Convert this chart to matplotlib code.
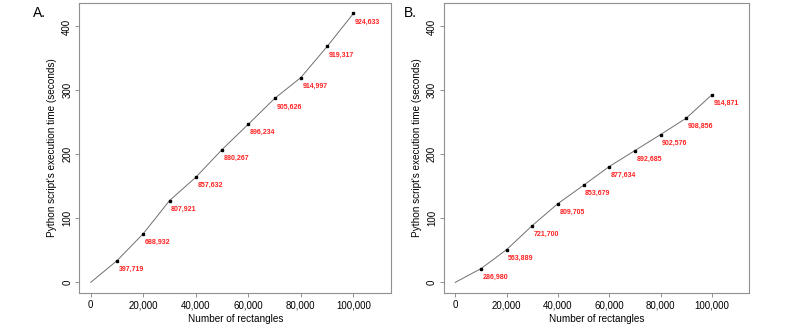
import matplotlib
matplotlib.use("Agg")
import matplotlib.pyplot as plt
from matplotlib.ticker import FuncFormatter

plt.rcParams['font.family'] = ['Liberation Sans', 'DejaVu Sans']

rectangles = [0, 10000, 20000, 30000, 40000, 50000, 60000, 70000, 80000, 90000, 100000]
time_a = [0, 33.9, 76.1, 127.8, 164.3, 207.6, 247.2, 287.4, 320.2, 368.7, 420.3]
time_b = [0, 21.4, 51.1, 88.7, 123.1, 151.8, 181.0, 206.0, 231.0, 256.6, 293.1]
labels_a = ["397,719", "688,932", "807,921", "857,632", "880,267", "896,234",
            "905,626", "914,997", "919,317", "924,633"]
labels_b = ["286,980", "563,889", "721,700", "809,705", "853,679", "877,634",
            "892,685", "902,576", "908,856", "914,871"]
panel_titles = ["A.", "B."]
x_ticks = [0, 20000, 40000, 60000, 80000, 100000]
y_ticks = [0, 100, 200, 300, 400]

fig = plt.figure(figsize=(8, 3.26), dpi=100)
ax_a = fig.add_axes([0.099, 0.101, 0.390, 0.890])
ax_b = fig.add_axes([0.555, 0.101, 0.381, 0.890])

for ax, ys, labs, title in [(ax_a, time_a, labels_a, panel_titles[0]),
                            (ax_b, time_b, labels_b, panel_titles[1])]:
    ax.plot(rectangles, ys, color='#707070', lw=0.7, zorder=2)
    ax.plot(rectangles[1:], ys[1:], ls='none', marker='s', ms=1.8,
            color='black', zorder=3)
    for x, y, t in zip(rectangles[1:], ys[1:], labs):
        ax.annotate(t, (x, y), xytext=(1.2, -3.5), textcoords='offset points',
                    ha='left', va='top', color='#ff2020', fontsize=5,
                    fontweight='bold')
    ax.set_xlim(-4400, 114400)
    ax.set_ylim(-16.8, 436.8)
    ax.set_xticks(x_ticks)
    ax.set_yticks(y_ticks)
    ax.xaxis.set_major_formatter(FuncFormatter(lambda v, p: f"{int(v):,}"))
    ax.tick_params(axis='both', length=3, width=0.6, color='#808080',
                   labelsize=7, pad=2)
    for lab in ax.get_yticklabels():
        lab.set_rotation(90)
        lab.set_va('center')
    for s in ax.spines.values():
        s.set_color('#909090')
        s.set_linewidth(0.8)
    ax.set_xlabel("Number of rectangles", fontsize=7.2, labelpad=3)
    ax.set_ylabel("Python script's execution time (seconds)", fontsize=7.2,
                  labelpad=4)

fig.text(0.041, 0.96, panel_titles[0], fontsize=10, ha='left', va='center')
fig.text(0.505, 0.96, panel_titles[1], fontsize=10, ha='left', va='center')

fig.savefig("out.png", dpi=100)
